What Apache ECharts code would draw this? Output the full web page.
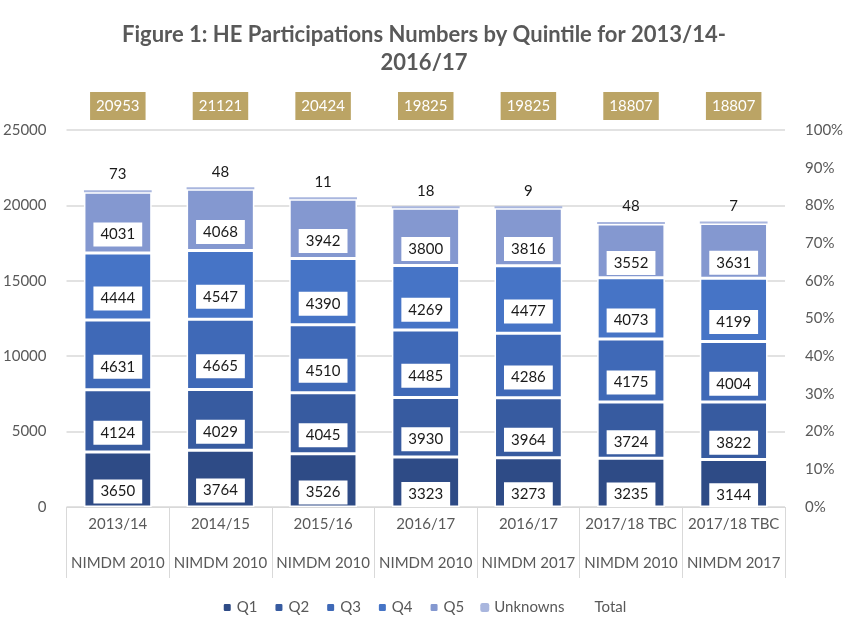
<!DOCTYPE html>
<html><head><meta charset="utf-8">
<script src="https://cdn.jsdelivr.net/npm/echarts@6/dist/echarts.min.js"></script>
<style>html,body{margin:0;padding:0;background:#fff}#c{width:848px;height:628px}</style>
</head><body><div id="c"></div>
<script>
const years = ['2013/14','2014/15','2015/16','2016/17','2016/17','2017/18 TBC','2017/18 TBC'];
const indices = ['NIMDM 2010','NIMDM 2010','NIMDM 2010','NIMDM 2010','NIMDM 2017','NIMDM 2010','NIMDM 2017'];
const q1 = [3650,3764,3526,3323,3273,3235,3144];
const q2 = [4124,4029,4045,3930,3964,3724,3822];
const q3 = [4631,4665,4510,4485,4286,4175,4004];
const q4 = [4444,4547,4390,4269,4477,4073,4199];
const q5 = [4031,4068,3942,3800,3816,3552,3631];
const unknowns = [73,48,11,18,9,48,7];
const totals = [20953,21121,20424,19825,19825,18807,18807];
const leftTicks = [0,5000,10000,15000,20000,25000];

const FONT = 'Lato';
const GREY = '#595959';
const colors = ['#2E4B86','#375BA0','#3F69B7','#4674C6','#8498D0','#A9B6DE'];

function quint(name, data, color){
  return {
    name, type:'bar', stack:'s', data, barWidth:'66%',
    itemStyle:{color, borderColor:'#fff', borderWidth:1.5},
    label:{show:true, position:'inside', offset:[0,12], color:'#1a1a1a', fontFamily:FONT, fontSize:15,
      backgroundColor:'#fff', padding:[5,7,4,7]},
    emphasis:{disabled:true}
  };
}

const chart = echarts.init(document.getElementById('c'));
chart.setOption({
  animation:false,
  textStyle:{fontFamily:FONT},
  title:{text:'Figure 1: HE Participations Numbers by Quintile for 2013/14-\n2016/17', left:'center', top:16,
    textStyle:{fontFamily:FONT, fontWeight:'bold', fontSize:22, color:GREY, lineHeight:28}},
  legend:{bottom:8, itemWidth:9, itemHeight:9, itemGap:16,
    textStyle:{fontFamily:FONT, fontSize:15, color:GREY},
    data:['Q1','Q2','Q3','Q4','Q5','Unknowns',{name:'Total', icon:'none'}]},
  grid:{left:62, right:63, top:130, bottom:121},
  xAxis:[
    {type:'category', data:years, position:'bottom',
      axisLine:{lineStyle:{color:'#D9D9D9'}},
      axisTick:{show:true, length:71, lineStyle:{color:'#D9D9D9'}},
      axisLabel:{interval:0, color:GREY, fontSize:15, fontFamily:FONT, margin:10}},
    {type:'category', data:indices, position:'bottom', gridIndex:0,
      axisLine:{show:false}, axisTick:{show:false},
      axisLabel:{interval:0, color:GREY, fontSize:15, fontFamily:FONT, margin:49}},
    {type:'category', data:totals, position:'top',
      axisLine:{show:false}, axisTick:{show:false},
      axisLabel:{interval:0, color:'#fff', fontSize:15, fontFamily:FONT, margin:10,
        backgroundColor:'#BBA465', padding:[7,6,6,6]}}
  ],
  yAxis:[
    {type:'value', min:leftTicks[0], max:leftTicks[leftTicks.length-1], interval:5000,
      axisLine:{show:false}, axisTick:{show:false},
      axisLabel:{color:GREY, fontSize:15, fontFamily:FONT, margin:20, formatter:v=>String(v)},
      splitLine:{lineStyle:{color:'#D9D9D9', width:1.5}}},
    {type:'value', min:0, max:1, interval:0.1, position:'right',
      axisLine:{show:false}, axisTick:{show:false}, splitLine:{show:false},
      axisLabel:{color:GREY, fontSize:15, fontFamily:FONT, margin:20,
        formatter:v=>Math.round(v*100)+'%'}}
  ],
  series:[
    quint('Q1', q1, colors[0]),
    quint('Q2', q2, colors[1]),
    quint('Q3', q3, colors[2]),
    quint('Q4', q4, colors[3]),
    quint('Q5', q5, colors[4]),
    {name:'Unknowns', type:'bar', stack:'s', data:unknowns, barMinHeight:2,
      itemStyle:{color:colors[5]},
      label:{show:true, position:'top', distance:8, color:'#1a1a1a', fontFamily:FONT, fontSize:15},
      emphasis:{disabled:true}},
    {name:'Total', type:'line', data:totals, symbol:'none', silent:true,
      lineStyle:{opacity:0}, itemStyle:{color:'rgba(0,0,0,0)'}, z:-1}
  ]
});
</script></body></html>
